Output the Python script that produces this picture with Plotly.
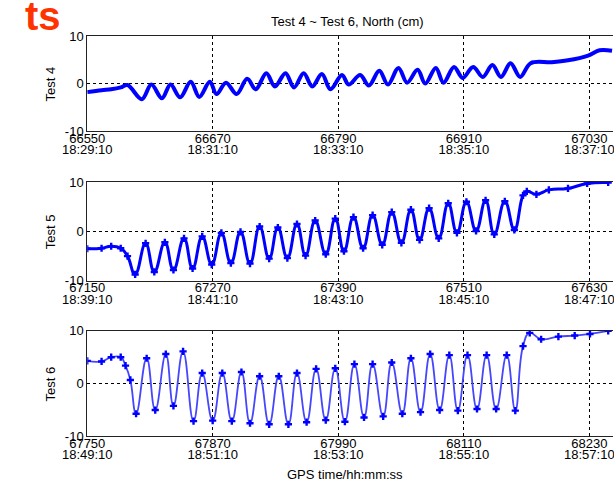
import plotly.graph_objects as go

# GPS seconds-of-day at the start of each test window
start4, start5, start6 = 66550, 67150, 67750

# Test 4: seconds after start, north offset (cm)
t4 = [0, 13.7, 22.9, 32, 38.5, 52.2, 61.3, 71.4, 79.6, 88.8, 98.9, 107.1, 117.2,
      123.6, 132.7, 142.8, 152.9, 161.1, 171.2, 179.4, 189.5, 197.7, 206.9, 215.1,
      224.3, 232.5, 243.5, 249.9, 260.9, 269.2, 279.2, 287.5, 297.5, 305.8, 315.8,
      323.2, 333.2, 340.6, 350.6, 358.9, 368.9, 378.1, 387.3, 395.5, 404.7, 413.8,
      423.9, 444.0, 459.6, 478.8, 489.8, 501.7]
v4 = [-1.8, -1.4, -1.2, -0.8, -0.3, -3.3, -0.2, -3.1, -0.2, -2.9, 0.4, -2.8, 0.4,
      -2.2, 0.2, -2.2, 1.0, -1.2, 2.2, -0.6, 2.2, -0.8, 2.2, -0.6,
      2.0, -1.2, 1.8, -0.2, 1.8, -0.4, 2.7, -0.2, 3.3, 0.2, 2.9,
      0.0, 3.3, 0.2, 3.5, 1.2, 3.5, 1.4, 3.9, 1.4, 4.3, 1.4,
      4.3, 4.5, 4.9, 5.9, 7.0, 6.9]

# Test 5
t5 = [0, 13.7, 22.9, 32, 38.5, 45.8, 55.8, 64.1, 74.2, 82.4, 92.5, 100.7, 109.9,
      119.0, 128.2, 137.3, 146.5, 155.6, 164.8, 173.9, 182.2, 191.3, 200.5, 208.7,
      217.9, 228.0, 237.1, 245.4, 254.5, 263.7, 272.8, 282.0, 291.1, 300.3, 309.4,
      317.7, 326.8, 336.0, 345.1, 353.4, 362.5, 371.7, 380.8, 389.1, 399.2, 408.3,
      416.6, 420.2, 429.4, 441.3, 459.6, 477.9, 498.0]
v5 = [-3.5, -3.4, -3.0, -3.4, -5.0, -8.7, -2.4, -8.2, -2.2, -7.8, -1.4, -7.5, -1.0,
      -6.7, -0.3, -6.4, -0.1, -6.5, 1.0, -5.5, 0.8, -5.4, 1.5, -4.9,
      2.2, -4.6, 2.6, -4.0, 2.9, -3.4, 3.3, -2.7, 3.9, -2.3, 4.4,
      -1.7, 4.7, -1.4, 5.7, -0.3, 6.0, 0.1, 6.3, -0.6, 6.1, 0.3,
      7.3, 8.1, 7.5, 8.4, 8.7, 9.7, 9.9]

# Test 6
t6 = [0, 13.7, 22.9, 32, 36.6, 41.2, 46.7, 56.8, 65.0, 75.1, 82.4, 91.6, 101.6,
      109.9, 119.9, 129.1, 138.2, 147.4, 155.6, 164.8, 173.9, 183.1, 192.3, 200.5,
      209.7, 218.8, 228.0, 237.1, 246.3, 255.4, 264.6, 272.8, 282.9, 291.1, 301.2,
      309.4, 318.6, 327.8, 336.9, 346.1, 354.3, 363.5, 372.6, 381.8, 390.9, 401.0,
      409.2, 416.6, 423.0, 433.9, 450.4, 466.0, 480.6, 498.0]
v6 = [4.3, 4.2, 5.0, 5.0, 3.4, 0.7, -5.7, 4.8, -5.0, 5.6, -4.2, 6.1, -7.1,
      2.0, -7.0, 2.0, -7.1, 2.2, -7.5, 1.4, -7.7, 1.4, -7.7, 2.0,
      -7.3, 2.8, -6.9, 2.9, -7.2, 3.7, -6.4, 3.7, -6.2, 4.0, -5.7,
      4.8, -5.4, 5.6, -5.0, 5.4, -5.1, 5.4, -4.8, 5.4, -4.8, 5.4,
      -5.1, 7.1, 9.6, 8.4, 8.9, 9.1, 9.4, 10.0]

tick_offsets = [0, 120, 240, 360, 480]
clock4 = ["18:29:10", "18:31:10", "18:33:10", "18:35:10", "18:37:10"]
clock5 = ["18:39:10", "18:41:10", "18:43:10", "18:45:10", "18:47:10"]
clock6 = ["18:49:10", "18:51:10", "18:53:10", "18:55:10", "18:57:10"]
panel_names = ["Test 4", "Test 5", "Test 6"]

W, H = 614, 491
px_per_s = 1.0923
x_left = 65
span = (W - x_left) / px_per_s
FONT = "Arial"

# vertical extents (pixels from top) of each panel
panels = [(30, 128), (180.5, 282.5), (334, 443)]

fig = go.Figure()
series = [(start4, t4, v4, clock4), (start5, t5, v5, clock5), (start6, t6, v6, clock6)]
styles = [
    dict(mode="lines", line=dict(color="#0000ff", width=4, shape="spline", smoothing=1.0)),
    dict(mode="lines+markers", line=dict(color="#0000ff", width=3, shape="spline", smoothing=1.3),
         marker=dict(symbol="cross", size=6, color="#0000ff")),
    dict(mode="lines+markers", line=dict(color="#4646ff", width=1.8, shape="spline", smoothing=1.3),
         marker=dict(symbol="cross", size=6, color="#0000ff")),
]

layout_axes = {}
for i, ((t0, ts, vs, clocks), style, (top, bot)) in enumerate(zip(series, styles, panels), start=1):
    xs = [t0 + s for s in ts]
    fig.add_trace(go.Scatter(x=xs, y=vs, xaxis=f"x{i}", yaxis=f"y{i}",
                             showlegend=False, hoverinfo="skip", **style))
    tickvals = [t0 + o for o in tick_offsets]
    xrange = [t0, t0 + span]
    xdomain = [x_left / W, 1]
    # upper tick row: GPS seconds, drawn with the frame and dashed grid
    layout_axes[f"xaxis{i}"] = dict(
        domain=xdomain, range=xrange, anchor=f"y{i}",
        tickvals=tickvals, ticktext=[str(v) for v in tickvals], ticks="",
        tickfont=dict(family=FONT, size=13, color="#000"), ticklabelstandoff=-5,
        ticklabeloverflow="allow",
        showline=True, linecolor="#222", linewidth=1, mirror=True,
        showgrid=True, gridcolor="#000", griddash="3px,3px", gridwidth=1,
        zeroline=False, fixedrange=True)
    # lower tick row: clock time of the same ticks
    j = i + 3
    layout_axes[f"xaxis{j}"] = dict(
        domain=xdomain, range=xrange, anchor=f"y{i}", overlaying=f"x{i}" if i > 1 else "x",
        side="bottom", tickvals=tickvals, ticktext=clocks, ticks="",
        tickfont=dict(family=FONT, size=13, color="#000"), ticklabelstandoff=9,
        ticklabeloverflow="allow",
        showline=False, showgrid=False, zeroline=False, fixedrange=True)
    layout_axes[f"yaxis{i}"] = dict(
        domain=[1 - bot / H, 1 - top / H], range=[-10, 10], anchor=f"x{i}",
        tickvals=[-10, 0, 10], ticktext=["-10", "0", "10"], ticks="",
        tickfont=dict(family=FONT, size=13, color="#000"),
        showline=True, linecolor="#222", linewidth=1, mirror=False,
        showgrid=True, gridcolor="#000", griddash="3px,3px", gridwidth=1,
        zeroline=False, fixedrange=True)
    # invisible trace so the clock-time axis is drawn
    fig.add_trace(go.Scatter(x=[xs[0]], y=[vs[0]], xaxis=f"x{j}", yaxis=f"y{i}",
                             mode="markers", marker=dict(opacity=0),
                             showlegend=False, hoverinfo="skip"))

annotations = []
for name, (top, bot) in zip(panel_names, panels):
    annotations.append(dict(text=name, x=27 / W, y=1 - (top + bot) / 2 / H,
                            xref="paper", yref="paper", textangle=-90, showarrow=False,
                            xanchor="center", yanchor="middle",
                            font=dict(family=FONT, size=13, color="#000")))
annotations.append(dict(text="Test 4 ~ Test 6, North (cm)", x=337 / W, y=1 - 15 / H,
                        xref="paper", yref="paper", showarrow=False,
                        xanchor="center", yanchor="middle",
                        font=dict(family=FONT, size=13, color="#000")))
annotations.append(dict(text="GPS time/hh:mm:ss", x=334 / W, y=1 - 482 / H,
                        xref="paper", yref="paper", showarrow=False,
                        xanchor="center", yanchor="middle",
                        font=dict(family=FONT, size=13, color="#000")))
annotations.append(dict(text="<b>ts</b>", x=-2 / W, y=1 + 15 / H,
                        xref="paper", yref="paper", showarrow=False,
                        xanchor="left", yanchor="top",
                        font=dict(family=FONT, size=40, color="#ff3300")))

fig.update_layout(width=W, height=H, margin=dict(l=0, r=0, t=0, b=0, pad=0),
                  paper_bgcolor="white", plot_bgcolor="white",
                  annotations=annotations, **layout_axes)

fig.write_html("out.html")
